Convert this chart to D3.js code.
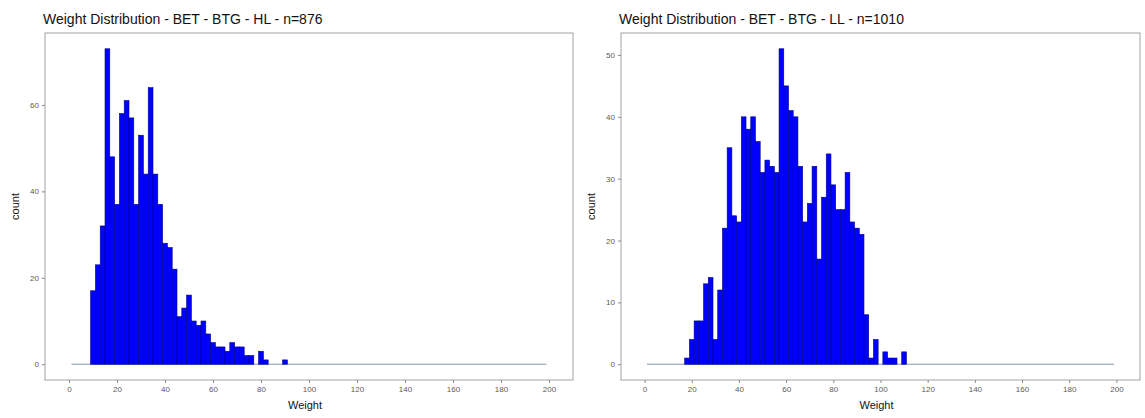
<!DOCTYPE html>
<html>
<head>
<meta charset="utf-8">
<script src="https://cdn.jsdelivr.net/npm/d3@7"></script>
<style>
  body { margin: 0; background: #fff; }
  svg { display: block; font-family: "Liberation Sans", Arial, sans-serif; }
</style>
</head>
<body>
<div id="chart"></div>
<script>
// histogram bins (lower edge, width 2)
const hlBins = [9, 11, 13, 15, 17, 19, 21, 23, 25, 27, 29, 31, 33, 35, 37, 39, 41, 43, 45, 47,
  49, 51, 53, 55, 57, 59, 61, 63, 65, 67, 69, 71, 73, 75, 77, 79, 81, 83, 85, 87, 89];
const hlCounts = [17, 23, 32, 73, 48, 37, 58, 61, 57, 37, 53, 44, 64, 44, 37, 28, 27, 22, 11, 13,
  16, 10, 9, 10, 7, 5, 4, 4, 3, 5, 4, 4, 2, 2, 0, 3, 1, 0, 0, 0, 1];

const llBins = [17, 19, 21, 23, 25, 27, 29, 31, 33, 35, 37, 39, 41, 43, 45, 47, 49, 51, 53, 55,
  57, 59, 61, 63, 65, 67, 69, 71, 73, 75, 77, 79, 81, 83, 85, 87, 89, 91, 93, 95,
  97, 99, 101, 103, 105, 107, 109];
const llCounts = [1, 4, 7, 7, 13, 14, 4, 12, 22, 35, 24, 23, 40, 38, 40, 36, 31, 33, 32, 31,
  51, 45, 41, 40, 32, 23, 26, 32, 17, 27, 34, 29, 25, 25, 31, 23, 22, 21, 8, 1,
  4, 0, 2, 1, 1, 0, 2];

const binWidth = 2;
const binRange = [1, 199];
const xTicks = [0, 20, 40, 60, 80, 100, 120, 140, 160, 180, 200];
const hlYTicks = [0, 20, 40, 60];
const llYTicks = [0, 10, 20, 30, 40, 50];

const W = 1145, H = 418;
const svg = d3.select("#chart").append("svg")
  .attr("width", W)
  .attr("height", H);

function drawPanel(opt) {
  const g = svg.append("g");
  const top = 33, bottom = 380;

  const maxCount = d3.max(opt.counts);
  const pad = maxCount * 0.05;
  const x = d3.scaleLinear().domain([-10, 210]).range([opt.left, opt.right]);
  const y = d3.scaleLinear().domain([-pad, maxCount + pad]).range([bottom, top]);

  // panel border
  g.append("rect")
    .attr("x", opt.left)
    .attr("y", top)
    .attr("width", opt.right - opt.left)
    .attr("height", bottom - top)
    .attr("fill", "none")
    .attr("stroke", "#8a8a8a")
    .attr("stroke-width", 0.8);

  // empty bins show up as a flat line
  g.append("line")
    .attr("x1", x(binRange[0]))
    .attr("x2", x(binRange[1]))
    .attr("y1", y(0))
    .attr("y2", y(0))
    .attr("stroke", "#7d8aa6")
    .attr("stroke-width", 0.9);

  const data = opt.bins.map((b, i) => ({ x0: b, x1: b + binWidth, n: opt.counts[i] }));

  g.selectAll(".bar")
    .data(data)
    .enter()
    .append("rect")
    .attr("class", "bar")
    .attr("x", d => x(d.x0))
    .attr("width", d => x(d.x1) - x(d.x0))
    .attr("y", d => y(d.n))
    .attr("height", d => y(0) - y(d.n))
    .attr("fill", d => d.n > 0 ? "#0000ff" : "none")
    .attr("stroke", d => d.n > 0 ? "#00008b" : "none")
    .attr("stroke-width", 0.6);

  // x axis
  const xAxis = g.append("g")
    .attr("transform", `translate(0,${bottom})`)
    .call(d3.axisBottom(x).tickValues(xTicks).tickSize(3).tickPadding(3));
  xAxis.select(".domain").remove();
  xAxis.selectAll("line").attr("stroke", "#8a8a8a");
  xAxis.selectAll("text").attr("fill", "#5a5a5a").style("font-size", "8px");

  // y axis
  const yAxis = g.append("g")
    .attr("transform", `translate(${opt.left},0)`)
    .call(d3.axisLeft(y).tickValues(opt.yTicks).tickSize(3).tickPadding(3));
  yAxis.select(".domain").remove();
  yAxis.selectAll("line").attr("stroke", "#8a8a8a");
  yAxis.selectAll("text").attr("fill", "#5a5a5a").style("font-size", "8px");

  // titles
  g.append("text")
    .attr("x", opt.left - 2)
    .attr("y", 24)
    .style("font-size", "14px")
    .attr("fill", "#111")
    .text(opt.title);

  g.append("text")
    .attr("x", (opt.left + opt.right) / 2 - 4)
    .attr("y", 409)
    .attr("text-anchor", "middle")
    .style("font-size", "11px")
    .attr("fill", "#111")
    .text("Weight");

  g.append("text")
    .attr("transform", `translate(${opt.left - 26},${(top + bottom) / 2}) rotate(-90)`)
    .attr("text-anchor", "middle")
    .style("font-size", "11px")
    .attr("fill", "#111")
    .text("count");
}

drawPanel({
  left: 45, right: 573,
  bins: hlBins, counts: hlCounts, yTicks: hlYTicks,
  title: "Weight Distribution - BET - BTG - HL - n=876"
});

drawPanel({
  left: 621, right: 1140,
  bins: llBins, counts: llCounts, yTicks: llYTicks,
  title: "Weight Distribution - BET - BTG - LL - n=1010"
});
</script>
</body>
</html>
